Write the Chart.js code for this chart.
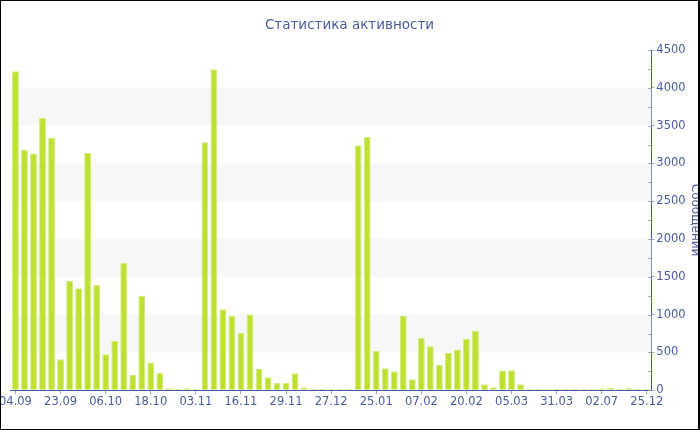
<!DOCTYPE html>
<html>
<head>
<meta charset="utf-8">
<script src="https://cdn.jsdelivr.net/npm/chart.js@4/dist/chart.umd.min.js"></script>
<style>
  html, body { margin: 0; padding: 0; background: #fff; }
  #box { position: absolute; left: 0; top: 0; width: 697px; height: 428px; border: 1px solid #000; border-right-width: 2px; overflow: hidden; background: #fff; }
  #c { position: absolute; left: -3px; top: 0; }
</style>
</head>
<body>
<div id="box"><canvas id="c" width="708" height="428"></canvas></div>
<script>
const titleText = 'Статистика активности';
const yAxisTitle = 'Сообщений';
const tickLabels = ['04.09','23.09','06.10','18.10','03.11','16.11','29.11','27.12','25.01','07.02','20.02','05.03','31.03','02.07','25.12'];
const messages = [4220,3180,3130,3600,3340,410,1445,1350,3140,1390,
                  475,655,1685,200,1250,365,230,25,20,25,
                  20,3280,4245,1070,980,760,1000,280,170,95,
                  100,225,40,16,16,16,16,18,3240,3350,
                  520,290,250,985,145,690,580,335,495,540,
                  680,785,80,40,260,265,80,16,16,18,
                  16,20,16,18,16,22,35,18,32,18,16];
const labelEvery = 5;
const categories = messages.map((_, i) => (i % labelEvery === 0 ? tickLabels[i / labelEvery] : ''));

const BLUE = '#4a5aa3';
const TICK = '#9aa0bd';

// title centred on the framed box (the chart's own title box is offset by the clipped axis title)
const boxTitlePlugin = {
  id: 'boxTitle',
  afterDraw(chart) {
    const { ctx } = chart;
    const boxWidth = chart.canvas.parentNode.clientWidth;
    const x = boxWidth / 2 - chart.canvas.offsetLeft;
    ctx.save();
    ctx.fillStyle = BLUE;
    ctx.font = '13.5px "DejaVu Sans"';
    ctx.textAlign = 'center';
    ctx.textBaseline = 'middle';
    ctx.fillText(titleText, x, 24);
    ctx.restore();
  }
};

const bandsPlugin = {
  id: 'bands',
  beforeDatasetsDraw(chart) {
    const { ctx, chartArea, scales } = chart;
    const y = scales.y;
    ctx.save();
    ctx.fillStyle = '#f7f7f7';
    for (let v = 500; v < y.max; v += 1000) {
      const top = y.getPixelForValue(v + 500);
      const bot = y.getPixelForValue(v);
      ctx.fillRect(chartArea.left, top, chartArea.right - chartArea.left, bot - top);
    }
    ctx.restore();
  },
  afterDraw(chart) {
    const { ctx, chartArea, scales } = chart;
    const y = scales.y;
    ctx.save();
    ctx.strokeStyle = TICK;
    ctx.lineWidth = 1;
    for (let v = 0; v <= y.max; v += 250) {
      const py = Math.round(y.getPixelForValue(v)) + 0.5;
      ctx.beginPath();
      ctx.moveTo(chartArea.right - 3, py);
      ctx.lineTo(chartArea.right, py);
      ctx.stroke();
    }
    ctx.restore();
  }
};

new Chart(document.getElementById('c'), {
  type: 'bar',
  data: {
    labels: categories,
    datasets: [{
      data: messages,
      backgroundColor: '#bde032',
      borderColor: '#d3ec7c',
      borderWidth: 1,
      barPercentage: 0.8,
      categoryPercentage: 0.95
    }]
  },
  options: {
    responsive: false,
    animation: false,
    layout: { autoPadding: false, padding: { top: 49, right: 0, bottom: 19, left: 0 } },
    plugins: {
      legend: { display: false },
      tooltip: { enabled: false },
      title: { display: false }
    },
    scales: {
      x: {
        offset: true,
        border: { display: true, color: BLUE, width: 1 },
        grid: {
          display: true,
          offset: false,
          drawOnChartArea: false,
          drawTicks: true,
          tickLength: 4,
          tickColor: (ctx) => (ctx.index % labelEvery === 0 ? TICK : 'rgba(0,0,0,0)')
        },
        ticks: {
          autoSkip: false,
          maxRotation: 0,
          color: BLUE,
          padding: 1,
          font: { family: 'DejaVu Sans', size: 11.5 },
          callback: (v, i) => categories[i]
        }
      },
      y: {
        position: 'right',
        min: 0,
        max: 4500,
        border: { display: true, color: BLUE, width: 1 },
        grid: {
          display: true,
          drawOnChartArea: false,
          drawTicks: true,
          tickLength: 3,
          tickColor: (ctx) => (ctx.tick && ctx.tick.value % 500 === 0 ? TICK : 'rgba(0,0,0,0)')
        },
        ticks: {
          stepSize: 250,
          color: BLUE,
          padding: 2,
          font: { family: 'DejaVu Sans', size: 11.5 },
          callback: (v) => (v % 500 === 0 ? String(v) : '')
        },
        title: {
          display: true,
          text: yAxisTitle,
          color: BLUE,
          font: { family: 'DejaVu Sans', size: 12 },
          padding: { top: 4, bottom: 0 }
        }
      }
    }
  },
  plugins: [bandsPlugin, boxTitlePlugin]
});
</script>
</body>
</html>
